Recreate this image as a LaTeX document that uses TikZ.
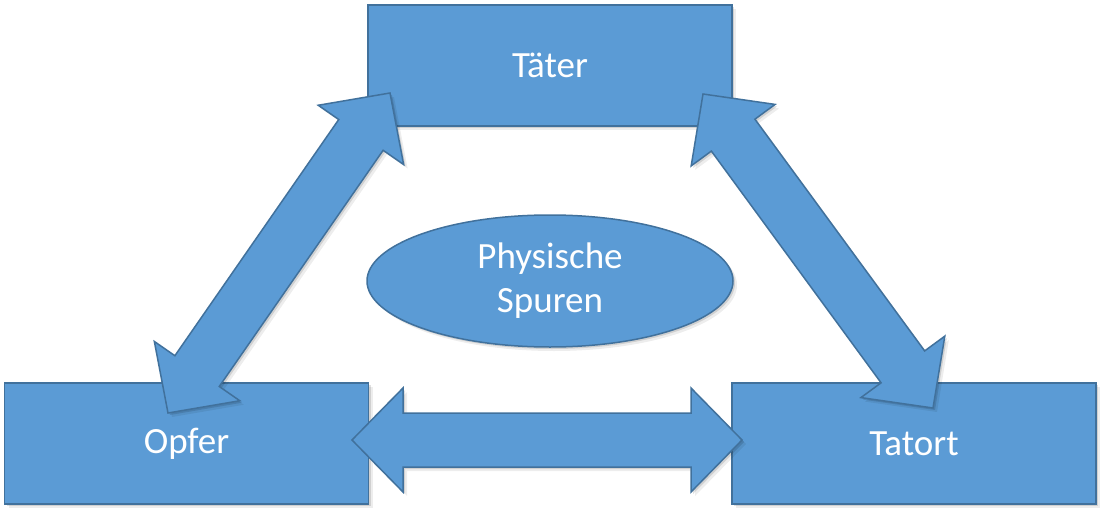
\documentclass[tikz,border=0pt]{standalone}
\usepackage{fontspec}
\setmainfont{Carlito}
\usetikzlibrary{shapes.geometric, calc, shadows}
\definecolor{boxblue}{RGB}{91, 155, 213}
\definecolor{edgeblue}{RGB}{65, 113, 156}
\newcommand{\labelfont}{\fontsize{37}{44}\selectfont}
\def\headlen{51pt}
\def\headwd{52pt}
\def\shaftwd{27pt}
\tikzset{
    softshadow/.style={
        general shadow={shadow xshift=2pt, shadow yshift=-2pt, fill=black, opacity=0.12},
        general shadow={shadow xshift=4pt, shadow yshift=-4pt, fill=black, opacity=0.07}
    },
    box/.style={
        rectangle, draw=edgeblue, fill=boxblue, line width=1.5pt,
        minimum width=364pt, minimum height=121pt, inner sep=0pt,
        text=white, font=\labelfont, softshadow
    },
    spurbox/.style={box, ellipse, minimum width=366pt, minimum height=132pt, align=center},
    fatarrow/.style={draw=edgeblue, fill=boxblue, line width=1.5pt, line join=miter, softshadow},
}
% double block arrow between two named points
\newcommand{\fatarrow}[2]{%
    \draw[fatarrow] (#1)
        -- ($(#1)!\headlen!(#2)!\headwd!90:(#2)$)
        -- ($(#1)!\headlen!(#2)!\shaftwd!90:(#2)$)
        -- ($(#2)!\headlen!(#1)!\shaftwd!-90:(#1)$)
        -- ($(#2)!\headlen!(#1)!\headwd!-90:(#1)$)
        -- (#2)
        -- ($(#2)!\headlen!(#1)!\headwd!90:(#1)$)
        -- ($(#2)!\headlen!(#1)!\shaftwd!90:(#1)$)
        -- ($(#1)!\headlen!(#2)!\shaftwd!-90:(#2)$)
        -- ($(#1)!\headlen!(#2)!\headwd!-90:(#2)$)
        -- cycle;}

\begin{document}
\begin{tikzpicture}[x=1pt, y=-1pt]
    \useasboundingbox (0, 0) rectangle (1110, 519);

    \node[box] (taeter) at (550, 65.5) {Täter};
    \node[box] (opfer) at (186.5, 443.5) {Opfer};
    \node[box] (tatort) at (914, 443.5) {Tatort};
    \node[spurbox] (spuren) at (550, 281) {Physische\\Spuren};

    \coordinate (taeterL) at (390, 93);
    \coordinate (taeterR) at (703, 94);
    \coordinate (opferT) at (168, 413);
    \coordinate (opferR) at (352, 440);
    \coordinate (tatortT) at (933, 408);
    \coordinate (tatortL) at (742, 440);

    \fatarrow{opferT}{taeterL}
    \fatarrow{taeterR}{tatortT}
    \fatarrow{opferR}{tatortL}
\end{tikzpicture}
\end{document}
